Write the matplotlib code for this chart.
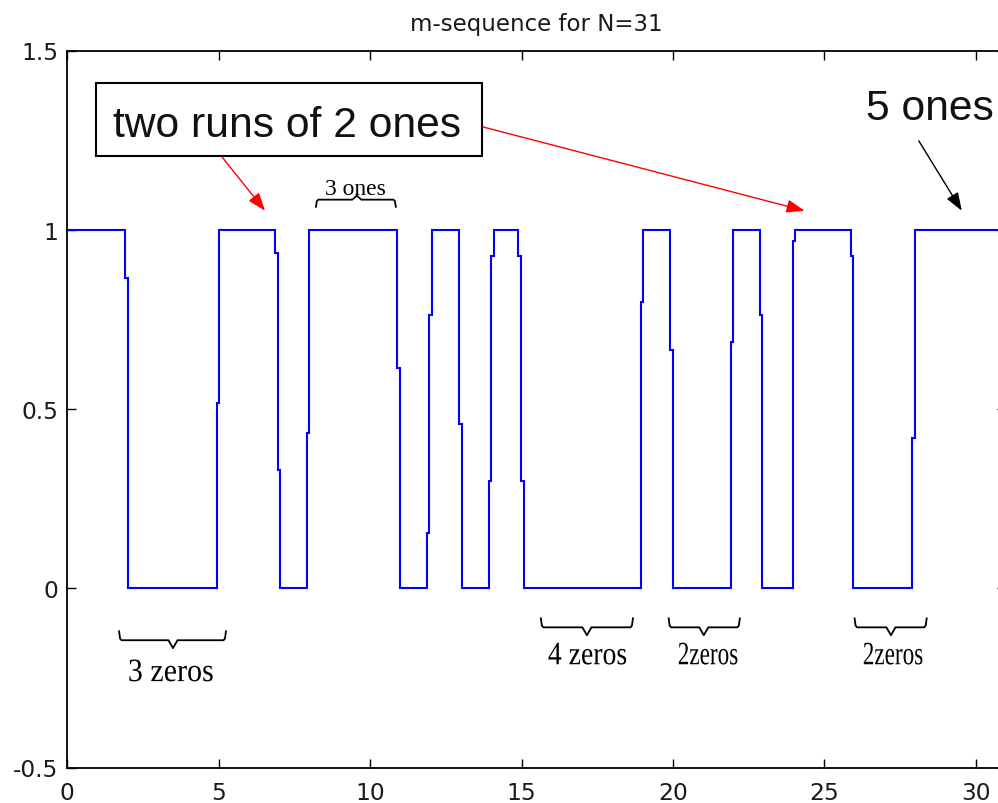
import matplotlib
matplotlib.use("Agg")
import matplotlib.pyplot as plt
import matplotlib.patheffects as pe
from matplotlib.transforms import Affine2D
from matplotlib.patches import Rectangle

# One period of the m-sequence (N = 31)
bits = [1, 1, 0, 0, 0, 1, 1, 0, 1, 1, 1, 0, 1, 0, 1, 0, 0, 0, 0, 1, 0, 0, 1, 0, 1, 1, 0, 0, 1, 1, 1]

# Each level change passes through one or two short intermediate samples
edge_starts = [1.91, 4.93, 6.86, 7.90, 10.89, 11.87, 12.94, 13.92, 14.89,
               18.93, 19.90, 21.91, 22.87, 23.95, 25.87, 27.91]
edge_levels = [[0.865], [0.517], [0.935, 0.331], [0.434], [0.613], [0.153, 0.761],
               [0.457], [0.300, 0.926], [0.926, 0.300], [0.799], [0.664], [0.687],
               [0.761], [0.968], [0.926], [0.420]]
sample_width = 0.088

x_ticks = [0, 5, 10, 15, 20, 25, 30]
y_ticks = [-0.5, 0, 0.5, 1, 1.5]
y_tick_labels = ["-0.5", "0", "0.5", "1", "1.5"]

title = "m-sequence for N=31"


class Squeeze(pe.AbstractPathEffect):
    """Draw text horizontally condensed about its left baseline origin."""

    def __init__(self, sx):
        super().__init__()
        self._sx = sx

    def draw_path(self, renderer, gc, tpath, affine, rgbFace=None):
        renderer.draw_path(gc, tpath, Affine2D().scale(self._sx, 1.0) + affine, rgbFace)


# build the staircase from the bit sequence
transitions = [k for k in range(1, len(bits)) if bits[k] != bits[k - 1]]
edges = [0.0]
values = [bits[0]]
for k, t0, levels in zip(transitions, edge_starts, edge_levels):
    t = t0
    for v in levels:
        edges.append(t)
        values.append(v)
        t += sample_width
    edges.append(t)
    values.append(bits[k])
edges.append(float(len(bits)))

fig = plt.figure(figsize=(9.98, 8.04), dpi=100)
ax = fig.add_axes([67.3 / 998, (804 - 768.5) / 804, (1006 - 67.3) / 998, 717 / 804])

ax.stairs(values, edges, baseline=None, color="#0000ff", linewidth=1.5, zorder=2)

ax.set_xlim(0, len(bits))
ax.set_ylim(-0.5, 1.5)
ax.set_xticks(x_ticks)
ax.set_xticklabels([str(v) for v in x_ticks])
ax.set_yticks(y_ticks)
ax.set_yticklabels(y_tick_labels)

for s in ax.spines.values():
    s.set_linewidth(1.3)
ax.tick_params(direction="in", top=True, right=True, length=6.5, width=1.0,
               labelsize=16.8, colors="black")
ax.tick_params(axis="x", pad=9.5)
ax.tick_params(axis="y", pad=6.5)
for lab in ax.get_xticklabels() + ax.get_yticklabels():
    lab.set_family("DejaVu Sans")
    lab.set_color("#1a1a1a")

ax.set_title(title, fontsize=16.5, family="DejaVu Sans", pad=15, color="#1a1a1a")

# annotation box and arrows
ax.add_patch(Rectangle((0.95, 1.206), 12.74, 0.203, facecolor="white",
                       edgecolor="black", linewidth=1.5, zorder=3))
ax.text(7.27, 1.262, "two runs of 2 ones", ha="center", va="baseline",
        fontsize=30.7, family="Liberation Sans", color="#111111", zorder=4)
ax.text(28.48, 1.309, "5 ones", ha="center", va="baseline",
        fontsize=30.7, family="Liberation Sans", color="#111111", zorder=4)

arrow_red = dict(arrowstyle="-|>,head_length=0.55,head_width=0.2", color="red",
                 lw=1.0, mutation_scale=20, shrinkA=0, shrinkB=0)
arrow_black = dict(arrow_red, color="black")
ax.annotate("", xy=(6.53, 1.053), xytext=(5.11, 1.203), arrowprops=arrow_red)
ax.annotate("", xy=(24.35, 1.053), xytext=(13.72, 1.287), arrowprops=arrow_red)
ax.annotate("", xy=(29.54, 1.053), xytext=(28.12, 1.248), arrowprops=arrow_black)


def brace(x0, x1, y, depth, xm, notch):
    """Curly brace: ends hooked by `depth`, centre tip offset by `notch`."""
    h = 0.08
    xs = [x0, x0 + h * 0.4, x0 + h, xm - 0.15, xm, xm + 0.15, x1 - h, x1 - h * 0.4, x1]
    ys = [y + depth, y + depth * 0.2, y, y, y + notch, y, y, y + depth * 0.2, y + depth]
    ax.plot(xs, ys, color="black", linewidth=1.3, solid_joinstyle="round", zorder=3)


brace(8.21, 10.85, 1.084, -0.020, 9.56, 0.011)
brace(1.71, 5.24, -0.145, 0.025, 3.49, -0.022)
brace(15.64, 18.68, -0.109, 0.025, 17.16, -0.022)
brace(19.86, 22.21, -0.109, 0.025, 21.02, -0.022)
brace(26.00, 28.38, -0.109, 0.025, 27.20, -0.022)

serif = dict(family="Liberation Serif", color="black", ha="left", va="baseline")
ax.text(8.51, 1.100, "3 ones", fontsize=17, **serif)
ax.text(2.00, -0.259, "3 zeros", fontsize=23.5, path_effects=[Squeeze(0.92)], **serif)
ax.text(15.87, -0.212, "4 zeros", fontsize=23.5, path_effects=[Squeeze(0.85)], **serif)
ax.text(20.16, -0.212, "2zeros", fontsize=23.5, path_effects=[Squeeze(0.71)], **serif)
ax.text(26.27, -0.212, "2zeros", fontsize=23.5, path_effects=[Squeeze(0.71)], **serif)

fig.savefig("out.png", dpi=100)
